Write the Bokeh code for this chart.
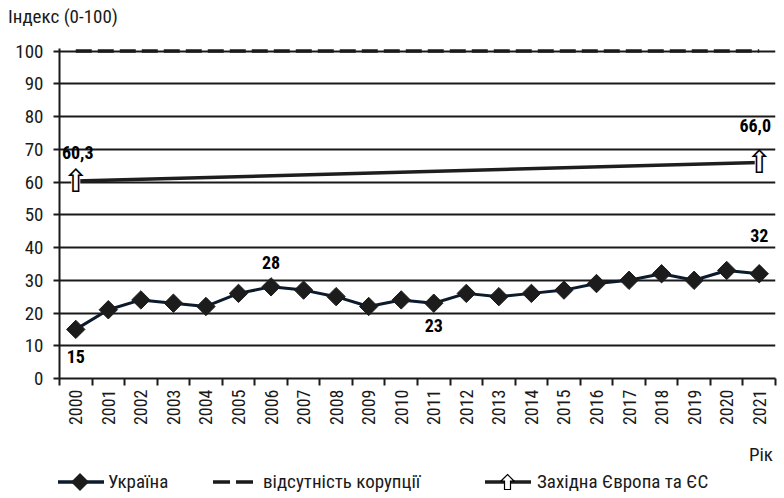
import math
from bokeh.plotting import figure
from bokeh.layouts import column
from bokeh.models import Range1d, FixedTicker, ColumnDataSource, Div
from bokeh.core.properties import value
from bokeh.embed import file_html
from bokeh.resources import INLINE

# ---- data ----
years = [2000, 2001, 2002, 2003, 2004, 2005, 2006, 2007, 2008, 2009, 2010,
         2011, 2012, 2013, 2014, 2015, 2016, 2017, 2018, 2019, 2020, 2021]
ukraine = [15, 21, 24, 23, 22, 26, 28, 27, 25, 22, 24,
           23, 26, 25, 26, 27, 29, 30, 32, 30, 33, 32]
no_corruption = [100, 100, 100, 100, 100, 100, 100, 100, 100, 100, 100,
                 100, 100, 100, 100, 100, 100, 100, 100, 100, 100, 100]
we_years = [2000, 2021]
we_values = [60.3, 66.0]
we_labels = ["60,3", "66,0"]
ua_label_years = [2000, 2006, 2011, 2021]
y_ticks = [0, 10, 20, 30, 40, 50, 60, 70, 80, 90, 100]
series_names = ["Україна", "відсутність корупції", "Західна Європа та ЄС"]
y_caption = "Індекс (0-100)"
x_caption = "Рік"

# ---- styles ----
ua_label_offsets = [27, -24, 22, -38]
we_label_offsets = [-29, -37]
we_label_xoff = [2, -4]

FONT = "'Roboto Condensed', 'Liberation Sans Narrow', 'DejaVu Sans Condensed', sans-serif"
DARK = "#1a1a1a"
UA_LINE = "#0b1a2c"
UA_MARK = "#1c1c1c"

# ---- top caption ----
top = Div(width=784, height=34, margin=0, text=(
    f'<div style="position:relative;width:784px;height:34px;font-family:{FONT};'
    f'font-size:19px;color:{DARK};">'
    f'<span style="position:absolute;left:8px;top:6px;line-height:22px;white-space:nowrap;">'
    f'{y_caption}</span></div>'))

# ---- main chart ----
p = figure(width=784, height=402,
           x_range=Range1d(years[0] - 0.5, years[-1] + 0.5),
           y_range=Range1d(0, 100.8),
           output_backend="svg", toolbar_location=None,
           min_border_left=59, min_border_right=9,
           min_border_top=14, min_border_bottom=58)
p.outline_line_color = None
p.background_fill_color = "white"
p.border_fill_color = "white"

xa = p.xaxis[0]
xa.ticker = FixedTicker(ticks=years,
                        minor_ticks=[y - 0.5 for y in years] + [years[-1] + 0.5])
xa.major_tick_out = 0
xa.major_tick_in = 0
xa.minor_tick_out = 7
xa.minor_tick_in = 0
xa.minor_tick_line_width = 2
xa.minor_tick_line_color = DARK
xa.axis_line_width = 2
xa.axis_line_color = DARK
xa.major_label_orientation = math.pi / 2
xa.major_label_text_font = FONT
xa.major_label_text_font_size = "18px"
xa.major_label_text_color = DARK
xa.major_label_standoff = 4

ya = p.yaxis[0]
ya.ticker = FixedTicker(ticks=y_ticks)
ya.major_tick_out = 6
ya.major_tick_in = 0
ya.minor_tick_out = 0
ya.minor_tick_in = 0
ya.major_tick_line_width = 2
ya.major_tick_line_color = DARK
ya.axis_line_width = 2
ya.axis_line_color = DARK
ya.major_label_text_font = FONT
ya.major_label_text_font_size = "19px"
ya.major_label_text_color = DARK
ya.major_label_standoff = 10

p.xgrid.visible = False
p.ygrid.ticker = FixedTicker(ticks=y_ticks)
p.ygrid.grid_line_color = DARK
p.ygrid.grid_line_width = 2

# no corruption (100)
p.line(years, no_corruption, line_color=DARK, line_width=3.5, line_dash="16 6")

# Western Europe & EU
p.line(we_years, we_values, line_color="#1e1e1e", line_width=3.5)
p.scatter(we_years, we_values, marker="square", size=9, fill_color="white", line_color=None)
we_src = ColumnDataSource(dict(x=we_years, y=we_values, t=["\u21e7"] * len(we_years)))
p.text("x", "y", text="t", source=we_src, text_font=value("DejaVu Sans"),
       text_font_size="32px", text_align="center", text_baseline="middle",
       text_color="black")

# Ukraine
p.line(years, ukraine, line_color=UA_LINE, line_width=3)
p.scatter(years, ukraine, marker="square", size=13, angle=math.pi / 4,
          fill_color=UA_MARK, line_color=UA_MARK)

# data labels
ua_lbl_src = ColumnDataSource(dict(
    x=ua_label_years,
    y=[ukraine[years.index(y)] for y in ua_label_years],
    t=[str(ukraine[years.index(y)]) for y in ua_label_years],
    off=ua_label_offsets))
p.text("x", "y", text="t", y_offset="off", source=ua_lbl_src,
       text_font=value(FONT), text_font_style="bold", text_font_size="18px",
       text_align="center", text_baseline="middle", text_color="black")

we_lbl_src = ColumnDataSource(dict(x=we_years, y=we_values, t=we_labels,
                                   off=we_label_offsets, xo=we_label_xoff))
p.text("x", "y", text="t", y_offset="off", x_offset="xo", source=we_lbl_src,
       text_font=value(FONT), text_font_style="bold", text_font_size="18px",
       text_align="center", text_baseline="middle", text_color="black")

# ---- bottom strip: "Рік" and legend ----
sw_ua = (f'<svg width="46" height="20" style="position:absolute;left:58px;top:36px;">'
         f'<line x1="0" y1="10" x2="46" y2="10" stroke="{UA_LINE}" stroke-width="3.5"/>'
         f'<polygon points="22,1 31,10 22,19 13,10" fill="{UA_MARK}"/></svg>')
sw_nc = (f'<svg width="40" height="20" style="position:absolute;left:213px;top:36px;">'
         f'<line x1="0" y1="10" x2="40" y2="10" stroke="{DARK}" stroke-width="3.5" '
         f'stroke-dasharray="17 6"/></svg>')
sw_we = (f'<svg width="46" height="20" style="position:absolute;left:485px;top:36px;">'
         f'<line x1="0" y1="10" x2="46" y2="10" stroke="#1e1e1e" stroke-width="3.5"/>'
         f'<polygon points="22.5,2.5 29,9 25.5,9 25.5,17.5 19.5,17.5 19.5,9 16,9" '
         f'fill="white" stroke="black" stroke-width="1.2"/></svg>')


def lbl(text, left):
    return (f'<span style="position:absolute;left:{left}px;top:35px;line-height:22px;'
            f'white-space:nowrap;">{text}</span>')


bot = Div(width=784, height=62, margin=0, text=(
    f'<div style="position:relative;width:784px;height:62px;font-family:{FONT};'
    f'font-size:19px;color:{DARK};">'
    f'<span style="position:absolute;right:11px;top:8px;line-height:22px;">{x_caption}</span>'
    + sw_ua + lbl(series_names[0], 108)
    + sw_nc + lbl(series_names[1], 263)
    + sw_we + lbl(series_names[2], 537)
    + '</div>'))

layout = column(top, p, bot, spacing=0)
open("out.html", "w").write(file_html(layout, INLINE))
